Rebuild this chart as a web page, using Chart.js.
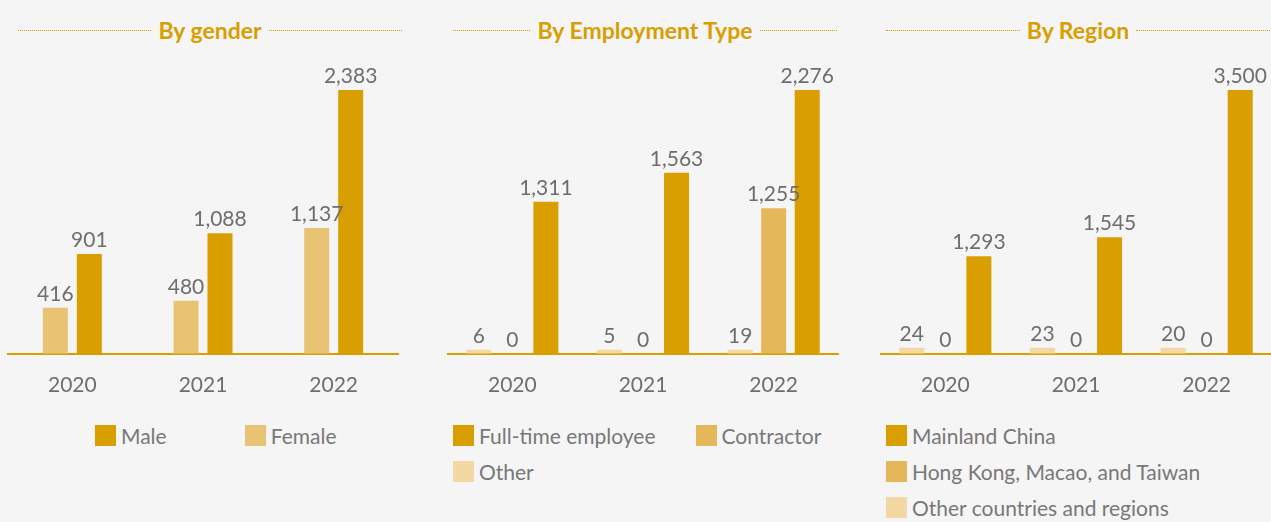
<!DOCTYPE html>
<html>
<head>
<meta charset="utf-8">
<script src="https://cdn.jsdelivr.net/npm/chart.js@4.4.1/dist/chart.umd.min.js"></script>
<style>
  body { margin: 0; background: #f5f5f5; font-family: Lato, "Noto Sans", sans-serif; width: 1271px; height: 522px; overflow: hidden; position: relative; }
  .panel { position: absolute; top: 0; width: 384px; height: 522px; }
  .title { position: absolute; top: 16px; left: 0; width: 100%; height: 28px; display: flex; align-items: center; gap: 7px; color: #d99e00; font-weight: bold; font-size: 23px; white-space: nowrap; }
  .title::before, .title::after { content: ""; flex: 1; border-top: 1px dotted #d99e00; }
  .chart-box { position: absolute; top: 50px; left: -6px; width: 392px; height: 367px; }
  #box-gender { left: -11px; }
  .legend { position: absolute; top: 424px; left: 0; width: 410px; display: flex; flex-wrap: wrap; column-gap: 40px; row-gap: 14px; font-size: 21px; color: #787878; }
  .legend .item { display: flex; align-items: center; height: 22px; white-space: nowrap; }
  .legend .box { width: 21px; height: 21px; margin-right: 5px; flex: none; }
  #legend-gender { padding-left: 77px; column-gap: 78px; }
</style>
</head>
<body>

<div class="panel" style="left:18px">
  <div class="title">By gender</div>
  <div class="chart-box" id="box-gender"><canvas id="genderChart"></canvas></div>
  <div class="legend" id="legend-gender"></div>
</div>

<div class="panel" style="left:453px">
  <div class="title">By Employment Type</div>
  <div class="chart-box"><canvas id="employmentChart"></canvas></div>
  <div class="legend" id="legend-employment"></div>
</div>

<div class="panel" style="left:886px">
  <div class="title">By Region</div>
  <div class="chart-box"><canvas id="regionChart"></canvas></div>
  <div class="legend" id="legend-region"></div>
</div>

<script>
const years = ["2020", "2021", "2022"];

const genderMale = [901, 1088, 2383];
const genderFemale = [416, 480, 1137];

const empFullTime = [1311, 1563, 2276];
const empContractor = [0, 0, 1255];
const empOther = [6, 5, 19];

const regionMainland = [1293, 1545, 3500];
const regionHkMacaoTaiwan = [0, 0, 0];
const regionOther = [24, 23, 20];

const DARK = "#d99e00";
const MID = "#e4b85a";
const FEMALE = "#e8c374";
const LIGHT = "#f3d8a3";

const valueLabels = {
  id: "valueLabels",
  afterDatasetsDraw(chart) {
    const ctx = chart.ctx;
    ctx.save();
    ctx.font = "21px Lato, 'Noto Sans', sans-serif";
    ctx.fillStyle = "#6e6e6e";
    ctx.textAlign = "center";
    ctx.textBaseline = "alphabetic";
    chart.data.datasets.forEach((ds, i) => {
      chart.getDatasetMeta(i).data.forEach((bar, j) => {
        ctx.fillText(Number(ds.data[j]).toLocaleString("en-US"), bar.x, bar.y - 7);
      });
    });
    ctx.restore();
  }
};

function renderLegend(id, datasets) {
  // legend lists series in reverse of the drawing order
  document.getElementById(id).innerHTML = [...datasets]
    .reverse()
    .map(ds => `<div class="item"><span class="box" style="background:${ds.backgroundColor}"></span>${ds.label}</div>`)
    .join("");
}

function makeChart(canvasId, legendId, datasets) {
  const n = datasets.length;
  const catPct = n === 2 ? 0.52 : 0.77;
  const barPct = n === 2 ? 0.735 : 0.746;
  const yMax = Math.max(...datasets.flatMap(ds => ds.data));

  datasets.forEach(ds => {
    ds.categoryPercentage = catPct;
    ds.barPercentage = barPct;
  });

  new Chart(document.getElementById(canvasId), {
    type: "bar",
    data: { labels: years, datasets },
    options: {
      responsive: true,
      maintainAspectRatio: false,
      animation: false,
      layout: { padding: { top: 40, bottom: 0 } },
      plugins: {
        legend: { display: false },
        tooltip: { enabled: false }
      },
      scales: {
        x: {
          grid: { display: false, drawTicks: false },
          border: { color: DARK, width: 2 },
          ticks: { color: "#6e6e6e", font: { family: "Lato", size: 21 }, padding: 19 }
        },
        y: { display: false, min: 0, max: yMax }
      }
    },
    plugins: [valueLabels]
  });

  renderLegend(legendId, datasets);
}

makeChart("genderChart", "legend-gender", [
  { label: "Female", data: genderFemale, backgroundColor: FEMALE },
  { label: "Male", data: genderMale, backgroundColor: DARK }
]);

makeChart("employmentChart", "legend-employment", [
  { label: "Other", data: empOther, backgroundColor: LIGHT, minBarLength: 4 },
  { label: "Contractor", data: empContractor, backgroundColor: MID },
  { label: "Full-time employee", data: empFullTime, backgroundColor: DARK }
]);

makeChart("regionChart", "legend-region", [
  { label: "Other countries and regions", data: regionOther, backgroundColor: LIGHT, minBarLength: 6 },
  { label: "Hong Kong, Macao, and Taiwan", data: regionHkMacaoTaiwan, backgroundColor: MID },
  { label: "Mainland China", data: regionMainland, backgroundColor: DARK }
]);
</script>
</body>
</html>
